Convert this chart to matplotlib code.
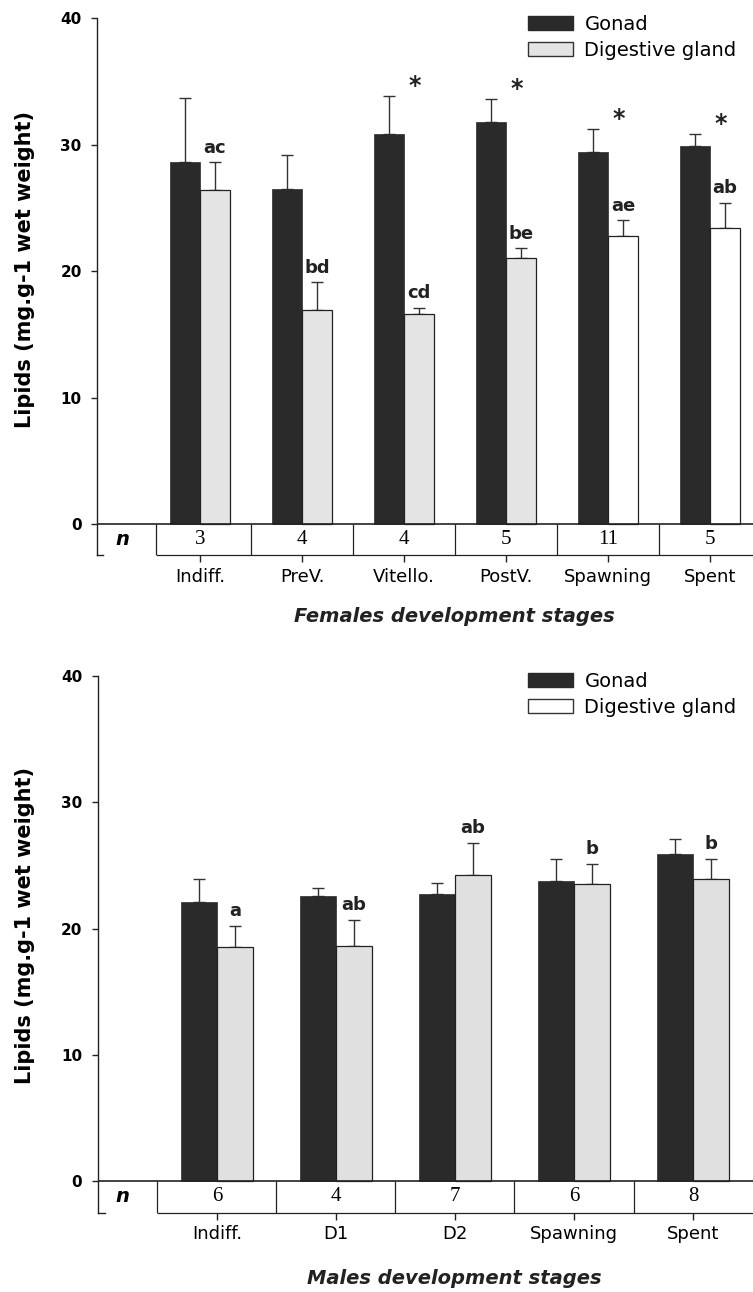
import numpy as np
import matplotlib
matplotlib.use('Agg')
import matplotlib.pyplot as plt
from matplotlib.patches import Patch

# %% data
fem_stages = ['Indiff.', 'PreV.', 'Vitello.', 'PostV.', 'Spawning', 'Spent']
fem_n = [3, 4, 4, 5, 11, 5]
fem_gonad = [28.6, 26.5, 30.8, 31.8, 29.4, 29.9]
fem_gonad_err = [5.1, 2.7, 3.0, 1.8, 1.8, 0.9]
fem_dg = [26.4, 16.9, 16.6, 21.0, 22.8, 23.4]
fem_dg_err = [2.2, 2.2, 0.5, 0.8, 1.2, 2.0]
fem_letters = ['ac', 'bd', 'cd', 'be', 'ae', 'ab']
fem_stars = [False, False, True, True, True, True]

male_stages = ['Indiff.', 'D1', 'D2', 'Spawning', 'Spent']
male_n = [6, 4, 7, 6, 8]
male_gonad = [22.1, 22.6, 22.7, 23.75, 25.9]
male_gonad_err = [1.8, 0.6, 0.9, 1.75, 1.2]
male_dg = [18.5, 18.6, 24.2, 23.5, 23.9]
male_dg_err = [1.7, 2.1, 2.6, 1.6, 1.6]
male_letters = ['a', 'ab', 'ab', 'b', 'b']
male_stars = [False] * 5

GONAD = '#2a2a2a'
EDGE = '#222222'
W, H = 753, 1292

fig = plt.figure(figsize=(W / 100, H / 100), dpi=100)


def px_axes(left, top, right, bottom):
    return fig.add_axes([left / W, 1 - bottom / H, (right - left) / W, (bottom - top) / H])


def draw_panel(ax, stages, n, gonad, gonad_err, dg, dg_err, letters, stars,
               dg_colors, legend_dg, width, row_h, first_cell, xlim, legend_top):
    x = np.arange(len(stages))
    zeros = np.zeros(len(x))

    ax.errorbar(x - width / 2, gonad, yerr=[zeros, gonad_err], fmt='none', ecolor='#333333',
                elinewidth=1, capsize=4, capthick=1, zorder=1)
    ax.errorbar(x + width / 2, dg, yerr=[zeros, dg_err], fmt='none', ecolor='#333333',
                elinewidth=1, capsize=4, capthick=1, zorder=1)
    ax.bar(x - width / 2, gonad, width, color=GONAD, edgecolor=GONAD, lw=0.5, zorder=2)
    ax.bar(x + width / 2, dg, width, color=dg_colors, edgecolor=EDGE, lw=0.9, zorder=2)

    for i in range(len(x)):
        ax.text(x[i] + width / 2, dg[i] + dg_err[i] + 0.45, letters[i], ha='center', va='bottom',
                fontsize=13, fontweight='bold', color='#222222')
        if stars[i]:
            ax.text(x[i] + 0.1, gonad[i] + gonad_err[i] + 0.25, '*', ha='center', va='baseline',
                    fontsize=17, fontweight='bold', color='#222222')

    # zero line and the n row under it
    ax.axhline(0, color=EDGE, lw=1.2, zorder=3)
    ax.hlines(-row_h, first_cell, xlim[1], color=EDGE, lw=0.9, clip_on=False)
    bounds = [first_cell] + [i - 0.5 for i in range(1, len(x))]
    ax.vlines(bounds, -row_h, 0, color=EDGE, lw=0.9)
    ax.plot([xlim[0], xlim[0] + 0.06], [-row_h, -row_h], color=EDGE, lw=1, clip_on=False)
    ax.text((xlim[0] + first_cell) / 2 - 0.04, -row_h / 2, 'n', style='italic', fontweight='bold',
            fontsize=14, ha='center', va='center')
    for i in range(len(x)):
        ax.text(x[i], -row_h / 2, str(n[i]), family='Liberation Serif', fontsize=15,
                ha='center', va='center')

    ax.set_xlim(*xlim)
    ax.set_ylim(-row_h, 40)
    ax.set_yticks([0, 10, 20, 30, 40])
    ax.set_xticks(x)
    ax.set_xticklabels(stages, fontsize=13)
    ax.tick_params(axis='x', length=5, width=1, pad=4, color=EDGE)
    ax.tick_params(axis='y', length=4, width=1, pad=7, labelsize=11, color=EDGE)
    for lbl in ax.get_yticklabels():
        lbl.set_fontweight('bold')
    for s in ['top', 'right', 'bottom']:
        ax.spines[s].set_visible(False)
    ax.spines['left'].set_color(EDGE)
    ax.spines['left'].set_linewidth(1)

    handles = [Patch(facecolor=GONAD, edgecolor=GONAD, label='Gonad'),
               Patch(facecolor=legend_dg, edgecolor='#333333', lw=1, label='Digestive gland')]
    ax.legend(handles=handles, loc='upper left', bbox_to_anchor=(528 / W, 1 - legend_top / H),
              bbox_transform=fig.transFigure, frameon=False, fontsize=14, handlelength=2.3,
              handleheight=0.72, handletextpad=0.6, labelspacing=0.35, borderpad=0, borderaxespad=0)


# %% females
ax1 = px_axes(97, 18, 753, 555)
draw_panel(ax1, fem_stages, fem_n, fem_gonad, fem_gonad_err, fem_dg, fem_dg_err, fem_letters,
           fem_stars, ['#e4e4e4'] * 4 + ['white', 'white'], '#e4e4e4',
           width=0.294, row_h=2.45, first_cell=-0.43, xlim=(-1.01, 5.42), legend_top=15)
fig.text(25 / W, 1 - 270 / H, 'Lipids (mg.g-1 wet weight)', rotation=90, ha='center', va='center',
         fontsize=15, fontweight='bold')
fig.text(454 / W, 1 - 617 / H, 'Females development stages', style='italic', fontweight='bold',
         fontsize=14, ha='center', va='center', color='#222222')

# %% males
ax2 = px_axes(97.6, 676, 753, 1212.7)
draw_panel(ax2, male_stages, male_n, male_gonad, male_gonad_err, male_dg, male_dg_err, male_letters,
           male_stars, ['#e0e0e0'] * 5, 'white',
           width=0.30, row_h=2.51, first_cell=-0.5, xlim=(-1.003, 4.504), legend_top=672)
fig.text(25 / W, 1 - 925 / H, 'Lipids (mg.g-1 wet weight)', rotation=90, ha='center', va='center',
         fontsize=15, fontweight='bold')
fig.text(454 / W, 1 - 1278 / H, 'Males development stages', style='italic', fontweight='bold',
         fontsize=14, ha='center', va='center', color='#222222')

fig.savefig('out.png', dpi=100)
plt.close(fig)
